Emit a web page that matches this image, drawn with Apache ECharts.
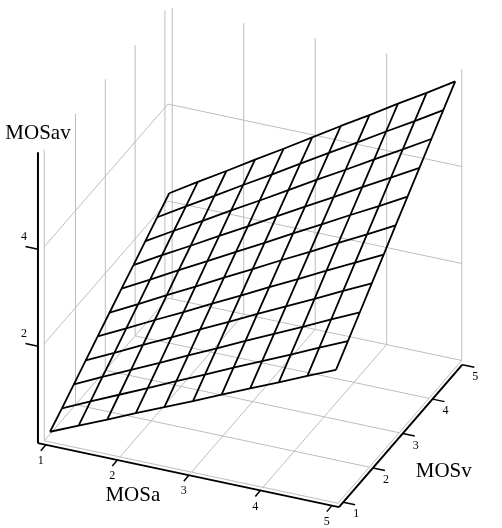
<!DOCTYPE html>
<html>
<head>
<meta charset="utf-8">
<script src="https://cdn.jsdelivr.net/npm/echarts@6/dist/echarts.min.js"></script>
<style>
  html, body { margin: 0; padding: 0; background: #fff; }
  #chart { width: 502px; height: 528px; }
</style>
</head>
<body>
<div id="chart"></div>
<script>
// surface sample points
var mosA = [1, 1.4, 1.8, 2.2, 2.6, 3, 3.4, 3.8, 4.2, 4.6, 5];
var mosV = [1, 1.4, 1.8, 2.2, 2.6, 3, 3.4, 3.8, 4.2, 4.6, 5];
// MOSav, one row per MOSv value, one column per MOSa value
var mosAV = [
  [0.17, 0.42, 0.67, 0.93, 1.18, 1.43, 1.69, 1.94, 2.19, 2.45, 2.70],
  [0.37, 0.64, 0.90, 1.16, 1.43, 1.69, 1.96, 2.22, 2.48, 2.75, 3.01],
  [0.58, 0.86, 1.13, 1.40, 1.68, 1.95, 2.23, 2.50, 2.77, 3.05, 3.32],
  [0.79, 1.07, 1.36, 1.64, 1.93, 2.21, 2.50, 2.78, 3.06, 3.35, 3.63],
  [1.00, 1.29, 1.59, 1.88, 2.18, 2.47, 2.77, 3.06, 3.36, 3.65, 3.94],
  [1.21, 1.51, 1.82, 2.12, 2.43, 2.73, 3.04, 3.34, 3.65, 3.95, 4.26],
  [1.42, 1.73, 2.05, 2.36, 2.68, 2.99, 3.31, 3.62, 3.94, 4.25, 4.57],
  [1.62, 1.95, 2.27, 2.60, 2.92, 3.25, 3.58, 3.90, 4.23, 4.55, 4.88],
  [1.83, 2.17, 2.50, 2.84, 3.17, 3.51, 3.85, 4.18, 4.52, 4.85, 5.19],
  [2.04, 2.39, 2.73, 3.08, 3.42, 3.77, 4.12, 4.46, 4.81, 5.15, 5.50],
  [2.25, 2.61, 2.96, 3.32, 3.67, 4.03, 4.39, 4.74, 5.10, 5.45, 5.81]
];
var ticksA = [1, 2, 3, 4, 5];
var ticksV = [1, 2, 3, 4, 5];
var ticksAV = [2, 4];
var floorA = [2, 3, 4];
var floorV = [2, 3, 4];
var wallV = [2, 3, 4, 5];
var wallA = [1, 2, 3, 4];

// fixed oblique view of the 3D box
var view = { ox: 50, oy: 440, ax: 71.5, ay: 15.2, vx: 29.8, vy: -34.4, zy: -48.5 };
var box = { a0: 0.94, a1: 5.05, v0: 0.95, v1: 5.1, z1: 6 };
var axle = { a0: 0.89, a1: 5.1, v0: 0.86, v1: 5.0 };

function proj (a, v, z) {
  return [
    view.ox + (a - 1) * view.ax + (v - 1) * view.vx,
    view.oy + (a - 1) * view.ay + (v - 1) * view.vy + z * view.zy
  ];
}

var series = [];
function path (points, color, width, z) {
  series.push({
    type: 'line',
    data: points,
    symbol: 'none',
    silent: true,
    animation: false,
    z: z,
    lineStyle: { color: color, width: width }
  });
}
var GRAY = '#bdbdbd';

// floor
path([proj(box.a0, box.v0, 0), proj(box.a1, box.v0, 0), proj(box.a1, box.v1, 0), proj(box.a0, box.v1, 0), proj(box.a0, box.v0, 0)], GRAY, 1, 1);
floorA.forEach(function (a) { path([proj(a, box.v0, 0), proj(a, box.v1, 0)], GRAY, 1, 1) });
floorV.forEach(function (v) { path([proj(box.a0, v, 0), proj(box.a1, v, 0)], GRAY, 1, 1) });
// left wall (MOSa = min)
path([proj(box.a0, box.v0, 0), proj(box.a0, box.v0, box.z1)], GRAY, 1, 1);
wallV.forEach(function (v) { path([proj(box.a0, v, 0), proj(box.a0, v, box.z1)], GRAY, 1, 1) });
ticksAV.forEach(function (z) { path([proj(box.a0, box.v0, z), proj(box.a0, box.v1, z)], GRAY, 1, 1) });
// back wall (MOSv = max)
wallA.forEach(function (a) { path([proj(a, box.v1, 0), proj(a, box.v1, box.z1)], GRAY, 1, 1) });
path([proj(box.a1, box.v1, 0), proj(box.a1, box.v1, box.z1)], GRAY, 1, 1);
ticksAV.forEach(function (z) { path([proj(box.a0, box.v1, z), proj(box.a1, box.v1, z)], GRAY, 1, 1) });

// surface mesh
mosV.forEach(function (v, j) {
  path(mosA.map(function (a, i) { return proj(a, v, mosAV[j][i]) }), '#000', 1.8, 3);
});
mosA.forEach(function (a, i) {
  path(mosV.map(function (v, j) { return proj(a, v, mosAV[j][i]) }), '#000', 1.8, 3);
});

// black axes and ticks
path([proj(axle.a0, axle.v0, 0), proj(axle.a1, axle.v0, 0)], '#000', 2, 4);
path([proj(axle.a1, axle.v0, 0), proj(axle.a1, axle.v1, 0)], '#000', 2, 4);
path([proj(axle.a0, axle.v0, 0), proj(axle.a0, axle.v0, box.z1)], '#000', 2, 4);

var texts = [];
function label (text, p, dx, dy, size) {
  texts.push({
    type: 'text',
    x: p[0] + dx,
    y: p[1] + dy,
    style: {
      text: text,
      fill: '#000',
      font: size + 'px "Liberation Serif", "Times New Roman", serif',
      textAlign: 'center',
      textVerticalAlign: 'middle'
    }
  });
}

ticksA.forEach(function (t) {
  var p = proj(t, axle.v0, 0);
  path([p, [p[0] - 5, p[1] + 6]], '#000', 1.5, 4);
  label(String(t), p, -5, 16, 12);
});
ticksV.forEach(function (t) {
  var p = proj(axle.a1, t, 0);
  path([p, [p[0] + 12, p[1] + 2.5]], '#000', 1.5, 4);
  label(String(t), p, 13, 12, 12);
});
ticksAV.forEach(function (t) {
  var p = proj(axle.a0, axle.v0, t);
  path([p, [p[0] - 12.5, p[1] - 2.7]], '#000', 1.5, 4);
  label(String(t), p, -14, -12, 12);
});

label('MOSav', proj(axle.a0, axle.v0, box.z1), 0, -19, 21);
label('MOSa', proj(3, axle.v0, 0), -56, 20, 21);
label('MOSv', proj(axle.a1, 3, 0), 41, 38, 21);

var chart = echarts.init(document.getElementById('chart'), null, { renderer: 'canvas' });
chart.setOption({
  animation: false,
  grid: { left: 0, right: 0, top: 0, bottom: 0 },
  xAxis: { type: 'value', min: 0, max: 502, show: false },
  yAxis: { type: 'value', min: 0, max: 528, inverse: true, show: false },
  series: series,
  graphic: texts
});
</script>
</body>
</html>
